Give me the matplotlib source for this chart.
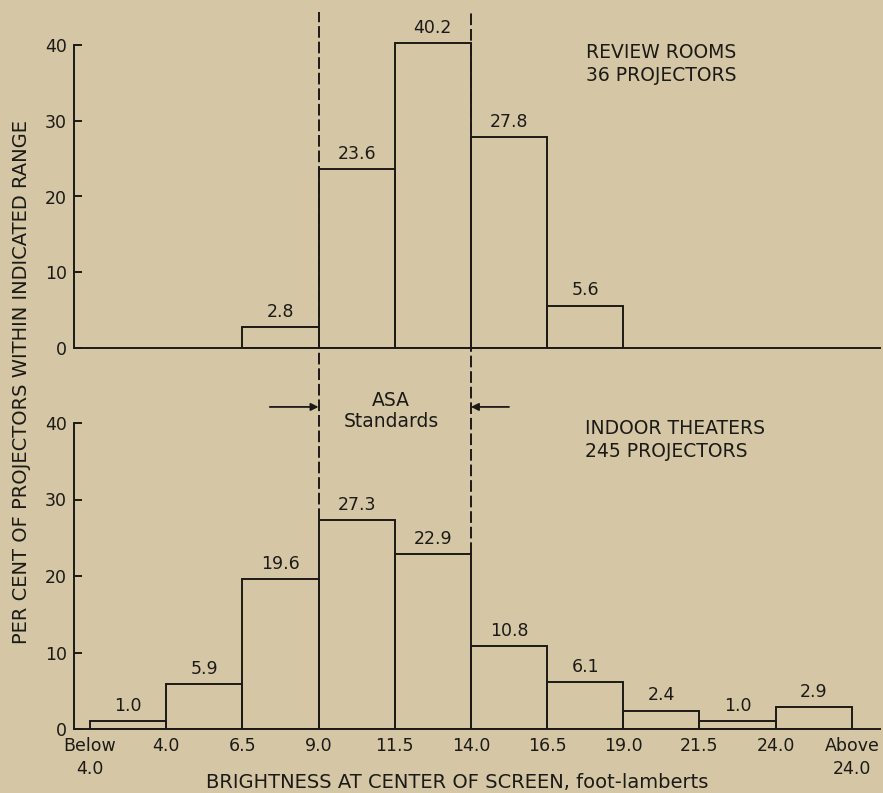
import numpy as np
import matplotlib.pyplot as plt

# bin edges: Below 4.0 | 4.0 ... 24.0 | Above 24.0
edge_labels = ["Below\n4.0", "4.0", "6.5", "9.0", "11.5", "14.0",
               "16.5", "19.0", "21.5", "24.0", "Above\n24.0"]
review_rooms = [0, 0, 2.8, 23.6, 40.2, 27.8, 5.6, 0, 0, 0]
indoor_theaters = [1.0, 5.9, 19.6, 27.3, 22.9, 10.8, 6.1, 2.4, 1.0, 2.9]
asa_edges = [3, 5]  # 9.0 and 14.0 foot-lamberts

bg = '#d5c7a5'
ink = '#1c1a17'
lw = 1.4

fig = plt.figure(figsize=(8.83, 7.93), dpi=100, facecolor=bg)
ax1 = fig.add_axes([74/883, 1 - 348/793, 806/883, 348/793])
ax2 = fig.add_axes([74/883, 64/793, 806/883, 306/793])

for ax, vals, ytop in [(ax1, review_rooms, 348/7.575), (ax2, indoor_theaters, 40)]:
    ax.set_facecolor('none')
    ax.set_xlim(-0.21, 10.37)
    ax.set_ylim(0, ytop)
    for i, v in enumerate(vals):
        if v == 0:
            continue
        ax.bar(i, v, width=1, align='edge', fill=False, edgecolor=ink, linewidth=lw)
        ax.annotate(f"{v:.1f}", (i + 0.5, v), xytext=(0, 4.5), textcoords='offset points',
                    ha='center', va='bottom', fontsize=12.5, color=ink)
    for s in ['top', 'right']:
        ax.spines[s].set_visible(False)
    ax.spines['left'].set_bounds(0, 40)
    for s in ['left', 'bottom']:
        ax.spines[s].set_linewidth(lw)
        ax.spines[s].set_color(ink)
    ax.set_yticks([0, 10, 20, 30, 40])
    ax.tick_params(axis='y', direction='in', length=6, width=lw, pad=5,
                   labelsize=12.5, colors=ink)
    ax.tick_params(axis='x', length=0, pad=6, labelsize=12.5, colors=ink)

ax1.set_xticks([])
ax2.set_xticks(np.arange(len(edge_labels)))
ax2.set_xticklabels(edge_labels, linespacing=1.3)

# ASA standard limits, dashed across both panels
for e in asa_edges:
    low = max(indoor_theaters[e - 1], indoor_theaters[e])
    ax2.plot([e, e], [low, 93.7], color=ink, lw=1.4, ls=(0, (6, 2)), clip_on=False)

arrow = dict(arrowstyle='-|>', color=ink, lw=1.3, mutation_scale=11, shrinkA=0, shrinkB=0)
ax2.annotate('', xy=(asa_edges[0], 42.1), xytext=(asa_edges[0] - 0.64, 42.1),
             arrowprops=arrow, annotation_clip=False)
ax2.annotate('', xy=(asa_edges[1], 42.1), xytext=(asa_edges[1] + 0.5, 42.1),
             arrowprops=arrow, annotation_clip=False)
ax2.text(3.95, 41.6, "ASA\nStandards", ha='center', va='center', fontsize=13.5,
         color=ink, linespacing=1.1, clip_on=False)

ax1.text(6.51, 37.5, "REVIEW ROOMS\n36 PROJECTORS", ha='left', va='center',
         fontsize=13.5, color=ink, linespacing=1.3)
ax2.text(6.5, 37.8, "INDOOR THEATERS\n245 PROJECTORS", ha='left', va='center',
         fontsize=13.5, color=ink, linespacing=1.3)

fig.text(22/883, 1 - 382/793, "PER CENT OF PROJECTORS WITHIN INDICATED RANGE",
         rotation=90, ha='center', va='center', fontsize=14, color=ink)
fig.text(457/883, 1 - 783/793, "BRIGHTNESS AT CENTER OF SCREEN, foot-lamberts",
         ha='center', va='center', fontsize=14, color=ink)

fig.savefig('out.png', dpi=100, facecolor=bg)
